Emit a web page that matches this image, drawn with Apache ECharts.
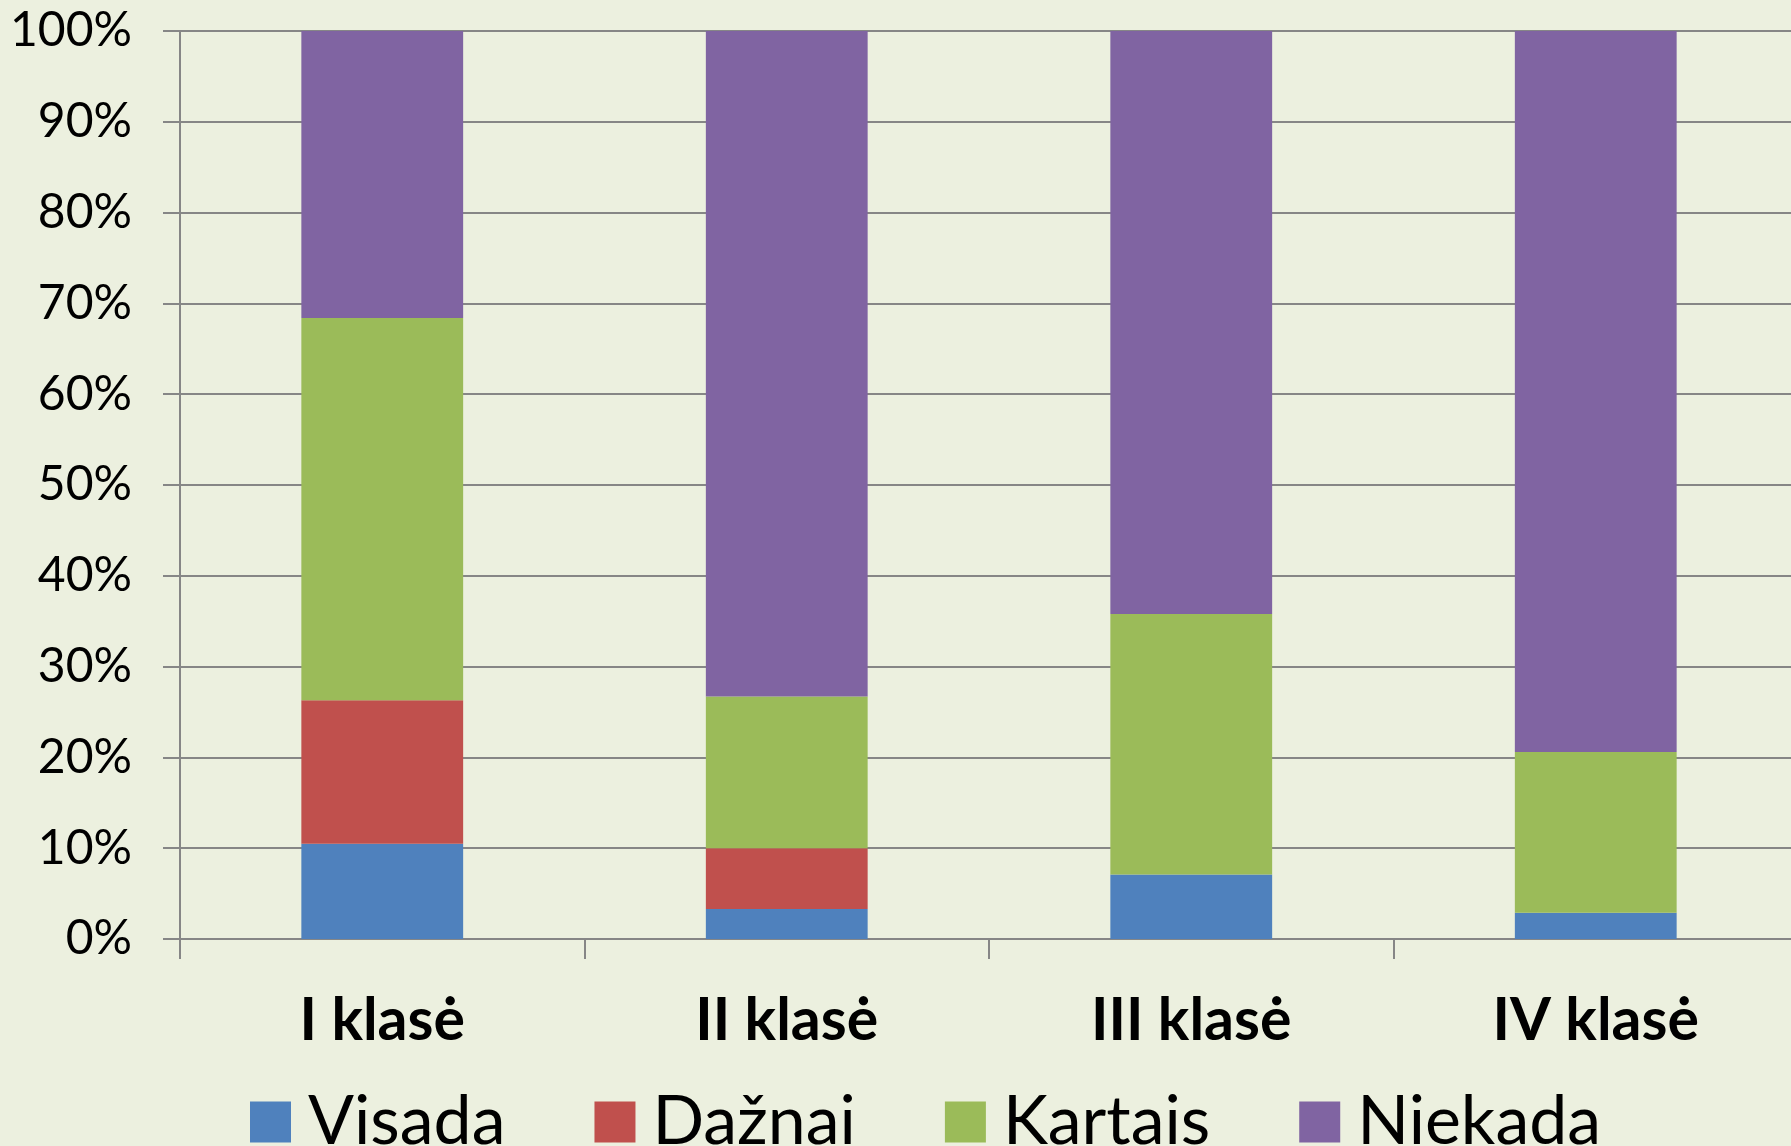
<!DOCTYPE html>
<html>
<head>
<meta charset="utf-8">
<script src="https://cdn.jsdelivr.net/npm/echarts@6/dist/echarts.min.js"></script>
<style>
  html, body { margin: 0; padding: 0; background: #ecf0df; overflow: hidden; }
  /* plot area runs slightly past the right edge, as in the original */
  #chart { width: 1806px; height: 1146px; }
</style>
</head>
<body>
<div id="chart"></div>
<script>
// duomenys (procentais)
var categories = ["I klasė", "II klasė", "III klasė", "IV klasė"];
var seriesNames = ["Visada", "Dažnai", "Kartais", "Niekada"];
var visada = [10.5, 3.3, 7.1, 2.9];
var daznai = [15.8, 6.7, 0, 0];
var kartais = [42.1, 16.7, 28.7, 17.7];
var niekada = [31.6, 73.3, 64.2, 79.4];
var yTicks = [0, 10, 20, 30, 40, 50, 60, 70, 80, 90, 100];

var colors = ["#4f81bd", "#c0504d", "#9bbb59", "#8064a2"];
var values = [visada, daznai, kartais, niekada];

var myChart = echarts.init(document.getElementById("chart"));

var series = [];
for (var i = 0; i < seriesNames.length; i++) {
  series.push({
    name: seriesNames[i],
    type: "bar",
    stack: "total",
    barWidth: "40%",
    data: values[i],
    itemStyle: { color: colors[i] },
  });
}

var option = {
  backgroundColor: "#ecf0df",
  animation: false,
  color: colors,
  textStyle: { fontFamily: "Lato" },
  grid: { left: 180, right: 8, top: 31, bottom: 207 },
  legend: {
    data: seriesNames,
    left: 245,
    top: 1083,
    icon: "rect",
    itemWidth: 41,
    itemHeight: 41,
    itemGap: 89,
    textStyle: { fontSize: 68, color: "#000", padding: [0, 0, 0, 12] },
  },
  xAxis: {
    type: "category",
    data: categories,
    axisLine: { lineStyle: { color: "#868686", width: 2 } },
    axisTick: { show: true, length: 20, lineStyle: { color: "#868686", width: 2 } },
    axisLabel: { fontSize: 59, fontWeight: "bold", color: "#000", margin: 52 },
  },
  yAxis: {
    type: "value",
    min: yTicks[0],
    max: yTicks[yTicks.length - 1],
    interval: 10,
    axisLine: { show: true, lineStyle: { color: "#868686", width: 2 } },
    axisTick: { show: true, length: 17, lineStyle: { color: "#868686", width: 2 } },
    axisLabel: { fontSize: 48, color: "#000", margin: 48, formatter: "{value}%" },
    splitLine: { lineStyle: { color: "#868686", width: 2 } },
  },
  series: series,
};

myChart.setOption(option);
</script>
</body>
</html>
